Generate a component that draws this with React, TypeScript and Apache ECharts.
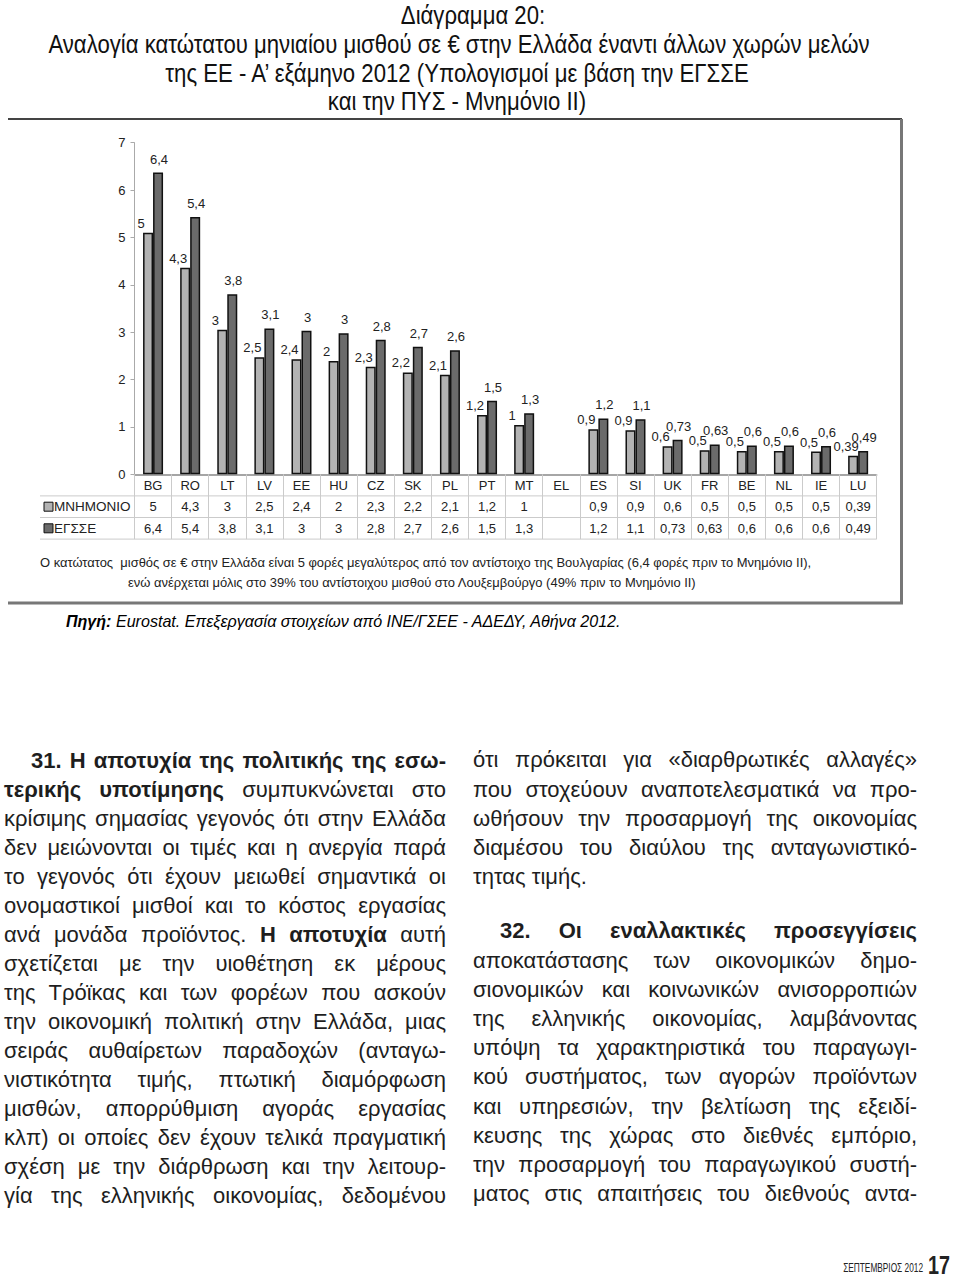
import React, { useEffect, useRef } from 'react';
import * as echarts from 'echarts';

const categories = ['BG', 'RO', 'LT', 'LV', 'EE', 'HU', 'CZ', 'SK', 'PL', 'PT', 'MT', 'EL', 'ES', 'SI', 'UK', 'FR', 'BE', 'NL', 'IE', 'LU'];
const memoBars = [5.1, 4.36, 3.05, 2.47, 2.43, 2.39, 2.27, 2.15, 2.1, 1.25, 1.04, null, 0.95, 0.93, 0.59, 0.51, 0.49, 0.49, 0.48, 0.39];
const egsseBars = [6.37, 5.43, 3.8, 3.08, 3.03, 2.98, 2.84, 2.69, 2.62, 1.55, 1.29, null, 1.18, 1.16, 0.73, 0.63, 0.61, 0.61, 0.6, 0.49];
const memoLabels = ['5', '4,3', '3', '2,5', '2,4', '2', '2,3', '2,2', '2,1', '1,2', '1', '', '0,9', '0,9', '0,6', '0,5', '0,5', '0,5', '0,5', '0,39'];
const egsseLabels = ['6,4', '5,4', '3,8', '3,1', '3', '3', '2,8', '2,7', '2,6', '1,5', '1,3', '', '1,2', '1,1', '0,73', '0,63', '0,6', '0,6', '0,6', '0,49'];
const seriesNames = ['ΜΝΗΜΟΝΙΟ', 'ΕΓΣΣΕ'];
const yMin = 0;
const yMax = 7;
const yInterval = 1;

const titleLines = [
  'Διάγραμμα 20:',
  'Αναλογία κατώτατου μηνιαίου μισθού σε € στην Ελλάδα έναντι άλλων χωρών μελών',
  'της ΕΕ - Α’ εξάμηνο 2012 (Υπολογισμοί με βάση την ΕΓΣΣΕ',
  'και την ΠΥΣ - Μνημόνιο ΙΙ)',
];
const noteLines = [
  'Ο κατώτατος  μισθός σε € στην Ελλάδα είναι 5 φορές μεγαλύτερος από τον αντίστοιχο της Βουλγαρίας (6,4 φορές πριν το Μνημόνιο ΙΙ),',
  'ενώ ανέρχεται μόλις στο 39% του αντίστοιχου μισθού στο Λουξεμβούργο (49% πριν το Μνημόνιο ΙΙ)',
];
const sourceBold = 'Πηγή:';
const sourceText = ' Eurostat. Επεξεργασία στοιχείων από ΙΝΕ/ΓΣΕΕ - ΑΔΕΔΥ, Αθήνα 2012.';

type Seg = { t: string; b?: boolean };
type Line = { segs: Seg[]; indent?: boolean; last?: boolean; gapBefore?: boolean };

const leftCol: Line[] = [
  { segs: [{ t: '31. Η αποτυχία της πολιτικής της εσω-', b: true }], indent: true },
  { segs: [{ t: 'τερικής υποτίμησης', b: true }, { t: ' συμπυκνώνεται στο' }] },
  { segs: [{ t: 'κρίσιμης σημασίας γεγονός ότι στην Ελλάδα' }] },
  { segs: [{ t: 'δεν μειώνονται οι τιμές και η ανεργία παρά' }] },
  { segs: [{ t: 'το γεγονός ότι έχουν μειωθεί σημαντικά οι' }] },
  { segs: [{ t: 'ονομαστικοί μισθοί και το κόστος εργασίας' }] },
  { segs: [{ t: 'ανά μονάδα προϊόντος. ' }, { t: 'Η αποτυχία', b: true }, { t: ' αυτή' }] },
  { segs: [{ t: 'σχετίζεται με την υιοθέτηση εκ μέρους' }] },
  { segs: [{ t: 'της Τρόϊκας και των φορέων που ασκούν' }] },
  { segs: [{ t: 'την οικονομική πολιτική στην Ελλάδα, μιας' }] },
  { segs: [{ t: 'σειράς αυθαίρετων παραδοχών (ανταγω-' }] },
  { segs: [{ t: 'νιστικότητα τιμής, πτωτική διαμόρφωση' }] },
  { segs: [{ t: 'μισθών, απορρύθμιση αγοράς εργασίας' }] },
  { segs: [{ t: 'κλπ) οι οποίες δεν έχουν τελικά πραγματική' }] },
  { segs: [{ t: 'σχέση με την διάρθρωση και την λειτουρ-' }] },
  { segs: [{ t: 'γία της ελληνικής οικονομίας, δεδομένου' }] },
];
const rightCol: Line[] = [
  { segs: [{ t: 'ότι πρόκειται για «διαρθρωτικές αλλαγές»' }] },
  { segs: [{ t: 'που στοχεύουν αναποτελεσματικά να προ-' }] },
  { segs: [{ t: 'ωθήσουν την προσαρμογή της οικονομίας' }] },
  { segs: [{ t: 'διαμέσου του διαύλου της ανταγωνιστικό-' }] },
  { segs: [{ t: 'τητας τιμής.' }], last: true },
  { segs: [{ t: '32. Οι εναλλακτικές προσεγγίσεις', b: true }], indent: true, gapBefore: true },
  { segs: [{ t: 'αποκατάστασης των οικονομικών δημο-' }] },
  { segs: [{ t: 'σιονομικών και κοινωνικών ανισορροπιών' }] },
  { segs: [{ t: 'της ελληνικής οικονομίας, λαμβάνοντας' }] },
  { segs: [{ t: 'υπόψη τα χαρακτηριστικά του παραγωγι-' }] },
  { segs: [{ t: 'κού συστήματος, των αγορών προϊόντων' }] },
  { segs: [{ t: 'και υπηρεσιών, την βελτίωση της εξειδί-' }] },
  { segs: [{ t: 'κευσης της χώρας στο διεθνές εμπόριο,' }] },
  { segs: [{ t: 'την προσαρμογή του παραγωγικού συστή-' }] },
  { segs: [{ t: 'ματος στις απαιτήσεις του διεθνούς αντα-' }] },
];
const footerMonth = 'ΣΕΠΤΕΜΒΡΙΟΣ 2012';
const footerPage = '17';

const SANS = '"Liberation Sans", Arial, sans-serif';

const PAGE_W = 960;
const PAGE_H = 1285;
const GRID_LEFT = 134.5;
const GRID_RIGHT_X = 876.7;
const GRID_TOP = 142.7;
const GRID_BOTTOM_Y = 474.3;
const ROW_H = 21.6;
const TABLE_LEFT = 40;
const LIGHT = '#b3b3b3';
const DARK = '#6b6b6b';
const BODY_SIZE = 22;
const INDENT = 27;
const TITLE_SIZE = 25;

let measureCtx: CanvasRenderingContext2D | null = null;
function textWidth(t: string, font: string): number {
  if (!measureCtx) measureCtx = document.createElement('canvas').getContext('2d');
  measureCtx!.font = font;
  return measureCtx!.measureText(t).width;
}
function fitScale(t: string, font: string, target: number): number {
  const w = textWidth(t, font);
  return w > 0 ? target / w : 1;
}

export default function App() {
  const ref = useRef<HTMLDivElement>(null);
  useEffect(() => {
    const chart = echarts.init(ref.current!, null, { renderer: 'svg' });
    const labelFont = { fontFamily: SANS, fontSize: 13, color: '#222' };
    chart.setOption({
      animation: false,
      grid: { left: GRID_LEFT, right: PAGE_W - GRID_RIGHT_X, top: GRID_TOP, bottom: PAGE_H - GRID_BOTTOM_Y, containLabel: false },
      xAxis: {
        type: 'category',
        data: categories,
        axisLine: { lineStyle: { color: '#888', width: 1.5 } },
        axisTick: { show: true, interval: 0, alignWithLabel: false, inside: false, length: ROW_H * 3, lineStyle: { color: '#cbcbcb', width: 1 } },
        axisLabel: { interval: 0, margin: 5, ...labelFont },
      },
      yAxis: {
        type: 'value',
        min: yMin,
        max: yMax,
        interval: yInterval,
        axisLine: { show: true, lineStyle: { color: '#aaa', width: 1 } },
        axisTick: { show: true, length: 4, lineStyle: { color: '#aaa' } },
        splitLine: { show: false },
        axisLabel: { margin: 9, ...labelFont },
      },
      series: [
        {
          name: seriesNames[0],
          type: 'bar',
          data: memoBars,
          barWidth: 10,
          barGap: '0%',
          itemStyle: { color: LIGHT, borderColor: '#111', borderWidth: 1.5 },
          label: { show: true, position: 'top', distance: 3, offset: [-7, 0], formatter: (p: any) => memoLabels[p.dataIndex], ...labelFont },
        },
        {
          name: seriesNames[1],
          type: 'bar',
          data: egsseBars,
          barWidth: 10,
          itemStyle: { color: DARK, borderColor: '#111', borderWidth: 1.5 },
          label: { show: true, position: 'top', distance: 7, offset: [1, 0], formatter: (p: any) => egsseLabels[p.dataIndex], ...labelFont },
        },
      ],
    });

    const xs = categories.map((c) => chart.convertToPixel({ xAxisIndex: 0 }, c) as number);
    const g: any[] = [];
    // title: one common horizontal compression for all lines (condensed look)
    const titleFont = TITLE_SIZE + 'px "Liberation Sans"';
    const titleSpec = [
      { cx: 473, y: 16, w: 134 },
      { cx: 459, y: 45, w: 900 },
      { cx: 457, y: 74, w: 635 },
      { cx: 457, y: 102, w: 231 },
    ];
    const tScales = titleLines.map((t, i) => fitScale(t, titleFont, titleSpec[i].w));
    const tScale = Math.min(fitScale(titleLines[1], titleFont, 900), tScales.reduce((a, b) => a + b, 0) / tScales.length);
    titleLines.forEach((t, i) => {
      const s = titleSpec[i];
      g.push({
        type: 'text', x: s.cx, y: s.y, scaleX: tScale,
        style: { text: t, fontFamily: SANS, fontSize: TITLE_SIZE, fill: '#111', align: 'center', verticalAlign: 'middle' },
      });
    });
    // frame
    g.push({ type: 'line', shape: { x1: 8, y1: 119, x2: 902, y2: 119 }, style: { stroke: '#444', lineWidth: 2 } });
    g.push({ type: 'line', shape: { x1: 901.5, y1: 119, x2: 901.5, y2: 603 }, style: { stroke: '#777', lineWidth: 3 } });
    g.push({ type: 'line', shape: { x1: 8, y1: 603, x2: 903, y2: 603 }, style: { stroke: '#777', lineWidth: 3 } });
    // table lines
    for (let r = 1; r <= 3; r++) {
      const y = GRID_BOTTOM_Y + ROW_H * r;
      g.push({ type: 'line', shape: { x1: TABLE_LEFT, y1: y, x2: GRID_RIGHT_X, y2: y }, style: { stroke: '#cbcbcb', lineWidth: 1 } });
    }
    // legend keys + names + values
    [memoLabels, egsseLabels].forEach((labels, s) => {
      const yc = GRID_BOTTOM_Y + ROW_H * (s + 1.5);
      g.push({ type: 'rect', shape: { x: 44, y: yc - 4.5, width: 9, height: 9 }, style: { fill: s === 0 ? LIGHT : DARK, stroke: '#111', lineWidth: 1 } });
      g.push({ type: 'text', x: 54, y: yc, style: { text: seriesNames[s], fontFamily: SANS, fontSize: 13.5, fill: '#222', align: 'left', verticalAlign: 'middle' } });
      labels.forEach((t, i) => {
        if (!t) return;
        g.push({ type: 'text', x: xs[i], y: yc, style: { text: t, fontFamily: SANS, fontSize: 13, fill: '#222', align: 'center', verticalAlign: 'middle' } });
      });
    });
    // notes (same compression for both lines)
    const noteFont = '13.5px "Liberation Sans"';
    const nScale = fitScale(noteLines[0], noteFont, 772);
    const noteSpec = [
      { x: 40, y: 562 },
      { x: 128, y: 582 },
    ];
    noteLines.forEach((t, i) => {
      const s = noteSpec[i];
      g.push({
        type: 'text', x: s.x, y: s.y, scaleX: nScale,
        style: { text: t, fontFamily: SANS, fontSize: 13.5, fill: '#222', align: 'left', verticalAlign: 'middle' },
      });
    });
    const srcW = textWidth(sourceBold, 'italic bold 16px "Liberation Sans"') + textWidth(sourceText, 'italic 16px "Liberation Sans"');
    g.push({
      type: 'text', x: 66, y: 621, scaleX: 556 / srcW,
      style: {
        text: '{b|' + sourceBold + '}{i|' + sourceText + '}',
        verticalAlign: 'middle', align: 'left',
        rich: {
          b: { fontFamily: SANS, fontSize: 16, fontWeight: 'bold', fontStyle: 'italic', color: '#222' },
          i: { fontFamily: SANS, fontSize: 16, fontStyle: 'italic', color: '#222' },
        },
      },
    });
    // footer
    g.push({
      type: 'text', x: 923, y: 1267, scaleX: fitScale(footerMonth, '13px "Liberation Sans"', 80),
      style: { text: footerMonth, fontFamily: SANS, fontSize: 13, fill: '#222', align: 'right', verticalAlign: 'middle' },
    });
    g.push({
      type: 'text', x: 928, y: 1265, scaleX: fitScale(footerPage, 'bold 26px "Liberation Sans"', 22),
      style: { text: footerPage, fontFamily: SANS, fontSize: 26, fontWeight: 'bold', fill: '#222', align: 'left', verticalAlign: 'middle' },
    });
    chart.setOption({ graphic: g });
    return () => chart.dispose();
  }, []);

  const renderCol = (lines: Line[], left: number, width: number, firstY: number, lh: number, gap: number) => {
    let y = firstY;
    return lines.map((ln, i) => {
      if (i > 0) y += lh + (ln.gapBefore ? gap : 0);
      const avail = width - (ln.indent ? INDENT : 0);
      let natural = 0;
      let chars = 0;
      ln.segs.forEach((s) => {
        natural += textWidth(s.t, (s.b ? 'bold ' : '') + BODY_SIZE + 'px "Liberation Sans"');
        chars += s.t.length;
      });
      const spacing = natural > avail - 2 ? (avail - 2 - natural) / chars : 0;
      return (
        <div
          key={i}
          style={{
            position: 'absolute',
            left: left + (ln.indent ? INDENT : 0),
            top: y - lh / 2,
            width: avail,
            height: lh,
            lineHeight: lh + 'px',
            fontFamily: SANS,
            fontSize: BODY_SIZE,
            letterSpacing: spacing + 'px',
            color: '#1e1e1e',
            textAlign: ln.last ? 'left' : 'justify',
            textAlignLast: ln.last ? 'left' : 'justify',
          } as any}
        >
          {ln.segs.map((s, j) => (
            <span key={j} style={{ fontWeight: s.b ? 'bold' : 'normal' }}>{s.t}</span>
          ))}
        </div>
      );
    });
  };

  return (
    <div style={{ position: 'absolute', left: 0, top: 0, width: PAGE_W, height: PAGE_H, background: '#fff', overflow: 'hidden' }}>
      <div ref={ref} style={{ position: 'absolute', left: 0, top: 0, width: PAGE_W, height: PAGE_H }} />
      {renderCol(leftCol, 4, 442, 760, 29, 0)}
      {renderCol(rightCol, 473, 444, 760, 29.2, 25)}
    </div>
  );
}
